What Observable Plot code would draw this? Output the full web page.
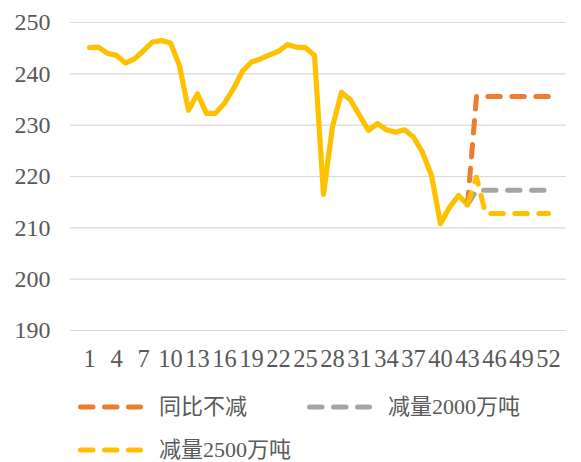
<!DOCTYPE html>
<html>
<head>
<meta charset="utf-8">
<script src="https://cdn.jsdelivr.net/npm/d3@7"></script>
<script src="https://cdn.jsdelivr.net/npm/@observablehq/plot@0.6"></script>
<style>
  html, body { margin: 0; padding: 0; background: #fff; }
  #chart { width: 581px; }
  .legend {
    display: flex; flex-wrap: wrap;
    padding-left: 78px; padding-top: 10px; width: 581px; box-sizing: border-box;
    font-family: "Liberation Serif", "Noto Sans CJK SC", serif;
    font-size: 22px; color: #595959; line-height: 1;
  }
  .legend .item { display: flex; align-items: center; width: 229px; height: 43px; }
  .legend svg { margin-right: 16px; flex: none; }
  .legend span { line-height: 1; }
</style>
</head>
<body>
<div id="chart"></div>
<script>
// Weekly values, weeks 1–43 (actual)
const weeks = d3.range(1, 53);
const actualWeeks = d3.range(1, 44);
const actualValues = [
  245.1, 245.2, 244.0, 243.6, 242.1, 242.9, 244.5, 246.2, 246.5, 246.0,
  241.6, 232.9, 236.1, 232.3, 232.3, 234.3, 237.1, 240.5, 242.3, 242.9,
  243.7, 244.4, 245.7, 245.2, 245.1, 243.6, 216.5, 229.7, 236.4, 234.9,
  231.9, 229.0, 230.3, 229.1, 228.6, 229.1, 227.7, 224.7, 220.2, 210.8,
  214.0, 216.3, 214.5
];

// Scenario projections, weeks 43–52
const scenarioWeeks = d3.range(43, 53);
const scenarioNames = ["同比不减", "减量2000万吨", "减量2500万吨"];
const scenarioColors = ["#ED7D31", "#A5A5A5", "#FFC000"];
const noCutValues   = [214.5, 235.6, 235.6, 235.6, 235.6, 235.6, 235.6, 235.6, 235.6, 235.6];
const cut2000Values = [214.5, 217.3, 217.3, 217.3, 217.3, 217.3, 217.3, 217.3, 217.3, 217.3];
const cut2500Values = [214.5, 219.9, 212.8, 212.8, 212.8, 212.8, 212.8, 212.8, 212.8, 212.8];

const xTicks = d3.range(1, 53, 3);
const yTicks = [190, 200, 210, 220, 230, 240, 250];

const actual = actualWeeks.map((w, i) => ({week: w, value: actualValues[i]}));
const scenarios = [noCutValues, cut2000Values, cut2500Values].map((vals, k) =>
  scenarioWeeks.map((w, i) => ({week: w, value: vals[i], name: scenarioNames[k]}))
);

const dash = "12.5,11.5";

const plot = Plot.plot({
  width: 581,
  height: 375,
  marginTop: 22,
  marginBottom: 45,
  marginLeft: 70,
  marginRight: 15,
  style: {fontFamily: "'Liberation Serif', serif", fontSize: "24px", color: "#595959", background: "#fff"},
  x: {type: "point", domain: weeks, padding: 0.5, label: null},
  y: {domain: [190, 250], label: null},
  marks: [
    Plot.gridY(yTicks, {stroke: "#d9d9d9", strokeOpacity: 1, strokeWidth: 1.2}),
    Plot.axisY(yTicks, {tickSize: 0, tickPadding: 20, fontSize: 24, fill: "#595959", label: null}),
    Plot.axisX(xTicks, {tickSize: 0, tickPadding: 19, fontSize: 24.5, fill: "#595959", label: null}),
    Plot.line(actual, {x: "week", y: "value", stroke: "#FFC000", strokeWidth: 5.2, strokeLinejoin: "round", strokeLinecap: "round"}),
    ...scenarios.map((s, k) => Plot.line(s, {
      x: "week", y: "value", stroke: scenarioColors[k], strokeWidth: 5,
      strokeDasharray: dash, strokeLinecap: "round", strokeLinejoin: "round"
    }))
  ]
});
document.getElementById("chart").appendChild(plot);

// Legend below the plot
const legend = d3.select("#chart").append("div").attr("class", "legend");
scenarioNames.forEach((name, k) => {
  const item = legend.append("div").attr("class", "item");
  const svg = item.append("svg").attr("width", 65).attr("height", 10);
  svg.append("line")
    .attr("x1", 2.5).attr("x2", 62.5).attr("y1", 5).attr("y2", 5)
    .attr("stroke", scenarioColors[k]).attr("stroke-width", 5)
    .attr("stroke-linecap", "round").attr("stroke-dasharray", dash);
  item.append("span").text(name);
});
</script>
</body>
</html>
